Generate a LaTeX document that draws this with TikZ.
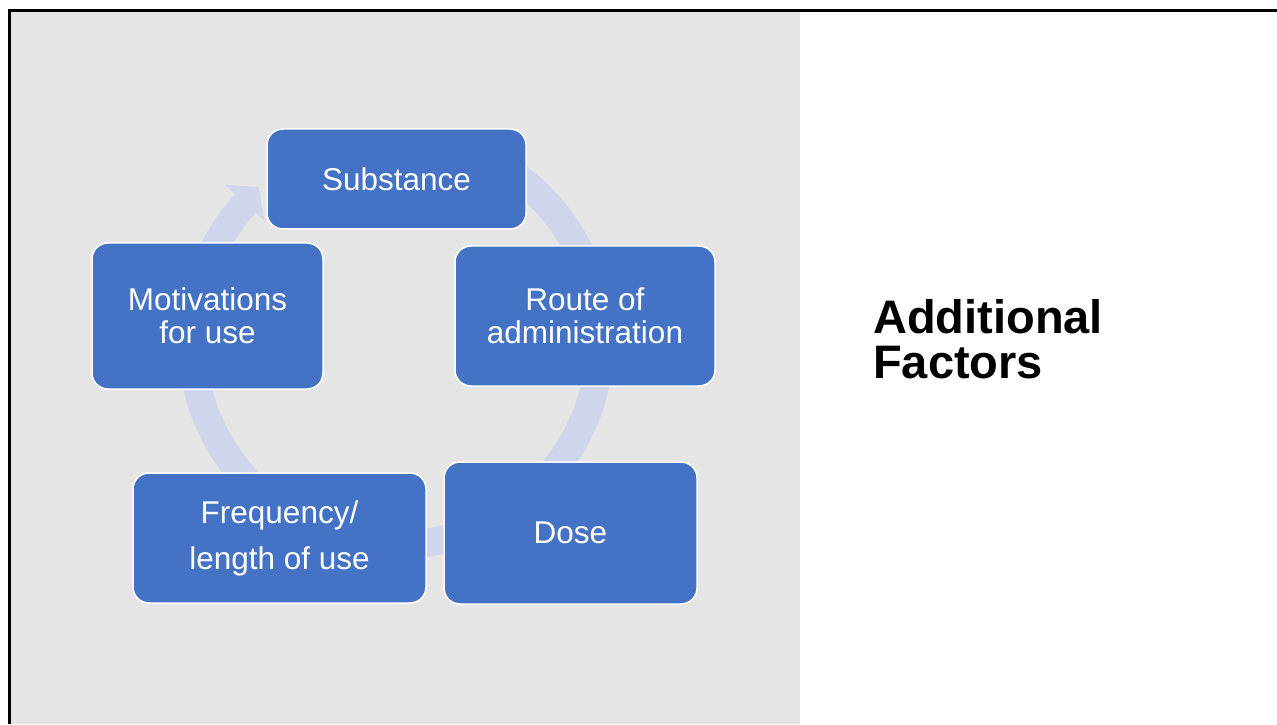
\documentclass[tikz,border=0pt]{standalone}
\usepackage{fontspec}
\setmainfont{Liberation Sans}
\usetikzlibrary{calc}
\definecolor{panelgray}{HTML}{E5E5E5}
\definecolor{boxblue}{HTML}{4472C4}
\definecolor{ringblue}{HTML}{CFD5EA}
\begin{document}
\begin{tikzpicture}[x=1pt,y=1pt,
  factor/.style={draw=white, line width=1.5pt, fill=boxblue, rounded corners=16pt,
    text=white, align=center, inner sep=0pt,
    font=\fontsize{31.5}{33}\selectfont},
  ring/.style={draw=ringblue, line width=28pt}]
\useasboundingbox (0,0) rectangle (1277,724);
% background panel and frame
\fill[panelgray] (11,0) rectangle (800,711.5);
\draw[line width=3pt] (9.5,0) -- (9.5,713) -- (1277,713);
% cycle ring with arrowhead
\coordinate (c) at (396,383);
\draw[ring] ($(c)+(65:204)$) arc[start angle=65, end angle=-222.4, radius=204];
\fill[ringblue] ($(c)+(137.6:178)$) -- ($(c)+(137.6:232)$) -- ($(c)+(131.8:206)$) -- cycle;
% boxes
\node[factor, minimum width=259pt, minimum height=100pt] (sub) at (396.5,545) {Substance};
\node[factor, minimum width=260pt, minimum height=140pt] (route) at (585,408) {Route of\\administration};
\node[factor, minimum width=253pt, minimum height=142pt] (dose) at (570.5,191) {Dose};
\node[factor, minimum width=293pt, minimum height=130pt, font=\fontsize{31.5}{46}\selectfont] (freq) at (279.5,186) {Frequency/\\length of use};
\node[factor, minimum width=231pt, minimum height=146pt] (mot) at (207.5,408) {Motivations\\for use};
% title
\node[anchor=north west, inner sep=0pt, align=left, font=\fontsize{47}{45}\selectfont\bfseries] (title) at (873,424.5) {Additional\\Factors};
\end{tikzpicture}
\end{document}
